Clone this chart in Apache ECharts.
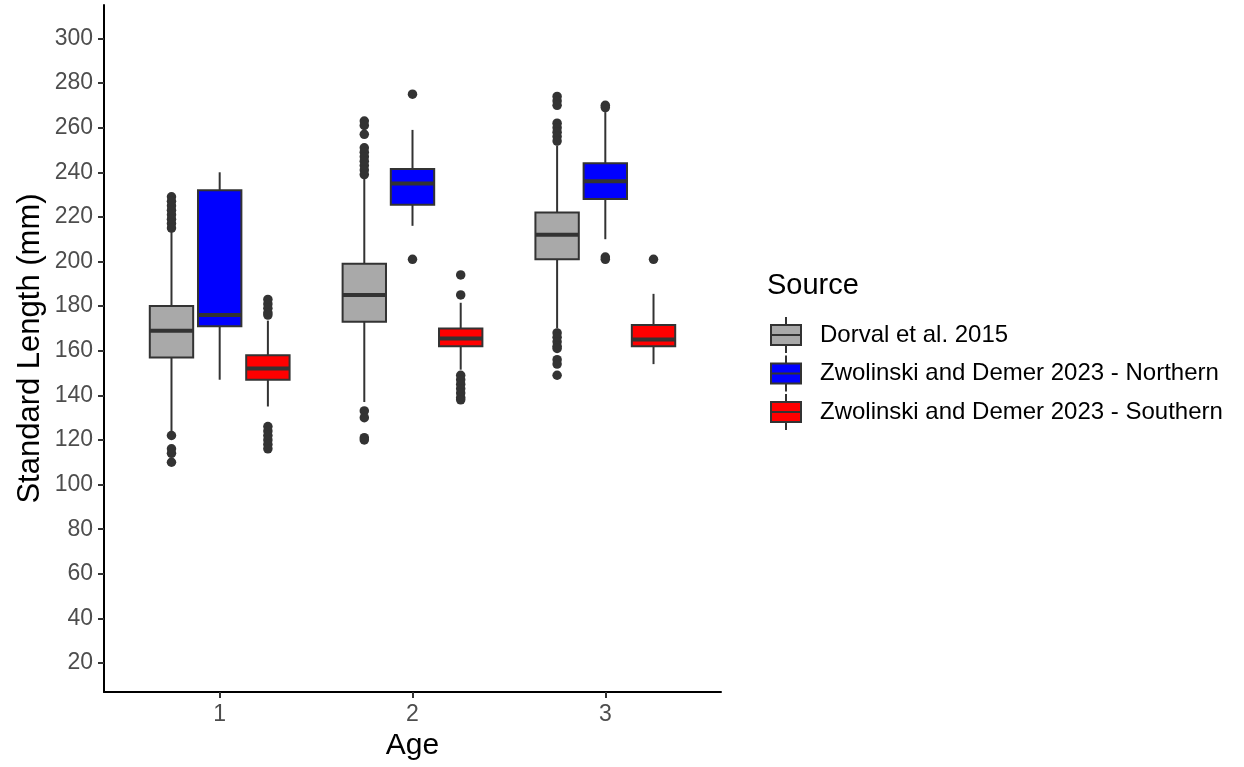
<!DOCTYPE html>
<html>
<head>
<meta charset="utf-8">
<script src="https://cdn.jsdelivr.net/npm/echarts@6/dist/echarts.min.js"></script>
<style>
  html, body { margin: 0; background: #fff; }
  #chart { width: 1244px; height: 767px; }
</style>
</head>
<body>
<div id="chart"></div>
<script>
// data
const ages = [1, 2, 3];
const sources = [
  'Dorval et al. 2015',
  'Zwolinski and Demer 2023 - Northern',
  'Zwolinski and Demer 2023 - Southern'
];
// [low whisker, q1, median, q3, high whisker] for age 1, 2, 3
const dorvalBox = [[123, 157, 169, 180, 214], [137, 173, 185, 199, 238], [170, 201, 212, 222, 252]];
const northBox = [[147, 171, 176, 232, 240], [216, 225.5, 235, 241.5, 259], [210, 228, 236, 244, 267]];
const southBox = [[135, 147, 152, 158, 173.5], [151.5, 162, 165.5, 170, 181.5], [154, 162, 165, 171.5, 185.5]];
// outliers as [age, value]
const dorvalOut = [
  [1, 229], [1, 227], [1, 225], [1, 223], [1, 221], [1, 219], [1, 217], [1, 215],
  [1, 122], [1, 116], [1, 114], [1, 110],
  [2, 263], [2, 261], [2, 257], [2, 251], [2, 249], [2, 247], [2, 245], [2, 243], [2, 241], [2, 239],
  [2, 133], [2, 130], [2, 121], [2, 120],
  [3, 274], [3, 272], [3, 270], [3, 262], [3, 260], [3, 258], [3, 256], [3, 254],
  [3, 168], [3, 166], [3, 164], [3, 162], [3, 161], [3, 156], [3, 154], [3, 149]
];
const northOut = [[2, 275], [2, 201], [3, 270], [3, 269], [3, 202], [3, 201]];
const southOut = [
  [1, 183], [1, 181], [1, 179], [1, 177], [1, 176],
  [1, 126], [1, 124], [1, 122], [1, 120], [1, 118], [1, 116],
  [2, 194], [2, 185], [2, 149], [2, 147], [2, 145], [2, 143], [2, 141], [2, 139], [2, 138],
  [3, 201]
];
const yTicks = [20, 40, 60, 80, 100, 120, 140, 160, 180, 200, 220, 240, 260, 280, 300];

const colors = ['#a9a9a9', '#0000ff', '#ff0000'];
const boxes = [dorvalBox, northBox, southBox];
const outliers = [dorvalOut, northOut, southOut];
const dodge = [-0.25, 0, 0.25];
const boxW = 0.225;
const font = '"Liberation Sans", Arial, sans-serif';
const ink = '#333333';

function boxRenderer(off, color) {
  return function (params, api) {
    const x = api.value(0) + off;
    const lo = api.coord([x, api.value(1)]);
    const q1 = api.coord([x, api.value(2)]);
    const md = api.coord([x, api.value(3)]);
    const q3 = api.coord([x, api.value(4)]);
    const hi = api.coord([x, api.value(5)]);
    const half = api.size([boxW, 0])[0] / 2;
    const cx = lo[0];
    return {
      type: 'group',
      children: [
        { type: 'line', shape: { x1: cx, y1: lo[1], x2: cx, y2: q1[1] }, style: { stroke: ink, lineWidth: 2 } },
        { type: 'line', shape: { x1: cx, y1: q3[1], x2: cx, y2: hi[1] }, style: { stroke: ink, lineWidth: 2 } },
        {
          type: 'rect',
          shape: { x: cx - half, y: q3[1], width: half * 2, height: q1[1] - q3[1] },
          style: { fill: color, stroke: ink, lineWidth: 2 }
        },
        { type: 'line', shape: { x1: cx - half, y1: md[1], x2: cx + half, y2: md[1] }, style: { stroke: ink, lineWidth: 4 } }
      ]
    };
  };
}

const series = [];
sources.forEach((name, i) => {
  series.push({
    name: name,
    type: 'custom',
    renderItem: boxRenderer(dodge[i], colors[i]),
    itemStyle: { color: colors[i], borderColor: ink, borderWidth: 2 },
    encode: { x: 0, y: [1, 2, 3, 4, 5] },
    data: ages.map((a, k) => [a].concat(boxes[i][k])),
    z: 2
  });
  series.push({
    type: 'scatter',
    symbolSize: 9.5,
    itemStyle: { color: ink, opacity: 1 },
    data: outliers[i].map(p => [p[0] + dodge[i], p[1]]),
    z: 3
  });
});

const chart = echarts.init(document.getElementById('chart'));
chart.setOption({
  animation: false,
  backgroundColor: '#ffffff',
  grid: { left: 104, right: 523, top: 5, bottom: 75 },
  title: {
    text: 'Source',
    left: 767,
    top: 271,
    padding: 0,
    textStyle: { fontFamily: font, fontSize: 29, fontWeight: 'normal', color: '#000' }
  },
  legend: {
    data: sources,
    orient: 'vertical',
    left: 770,
    top: 316,
    itemWidth: 30,
    itemHeight: 36,
    itemGap: 0.5,
    padding: 0,
    icon: 'path://M15,0L15,8M0,8L30,8L30,28L0,28ZM0,18L30,18M15,28L15,36',
    itemStyle: { borderColor: ink, borderWidth: 2 },
    textStyle: { fontFamily: font, fontSize: 24, color: '#000', padding: [0, 0, 0, 14] },
    selectedMode: false
  },
  xAxis: {
    type: 'value',
    min: 0.4,
    max: 3.6,
    name: 'Age',
    nameLocation: 'middle',
    nameGap: 36,
    nameTextStyle: { fontFamily: font, fontSize: 30, color: '#000' },
    axisLine: { lineStyle: { color: '#000', width: 2 } },
    axisTick: { length: 6, lineStyle: { color: ink, width: 2 }, customValues: ages },
    axisLabel: { customValues: ages, margin: 11, fontFamily: font, fontSize: 23, color: '#4d4d4d' },
    splitLine: { show: false }
  },
  yAxis: {
    type: 'value',
    min: 7,
    max: 315,
    name: 'Standard Length (mm)',
    nameLocation: 'middle',
    nameGap: 58,
    nameTextStyle: { fontFamily: font, fontSize: 31, color: '#000' },
    axisLine: { show: true, lineStyle: { color: '#000', width: 2 } },
    axisTick: { show: true, length: 6, lineStyle: { color: ink, width: 2 }, customValues: yTicks },
    axisLabel: { customValues: yTicks, margin: 11, fontFamily: font, fontSize: 23, color: '#4d4d4d' },
    splitLine: { show: false }
  },
  series: series
});
</script>
</body>
</html>
